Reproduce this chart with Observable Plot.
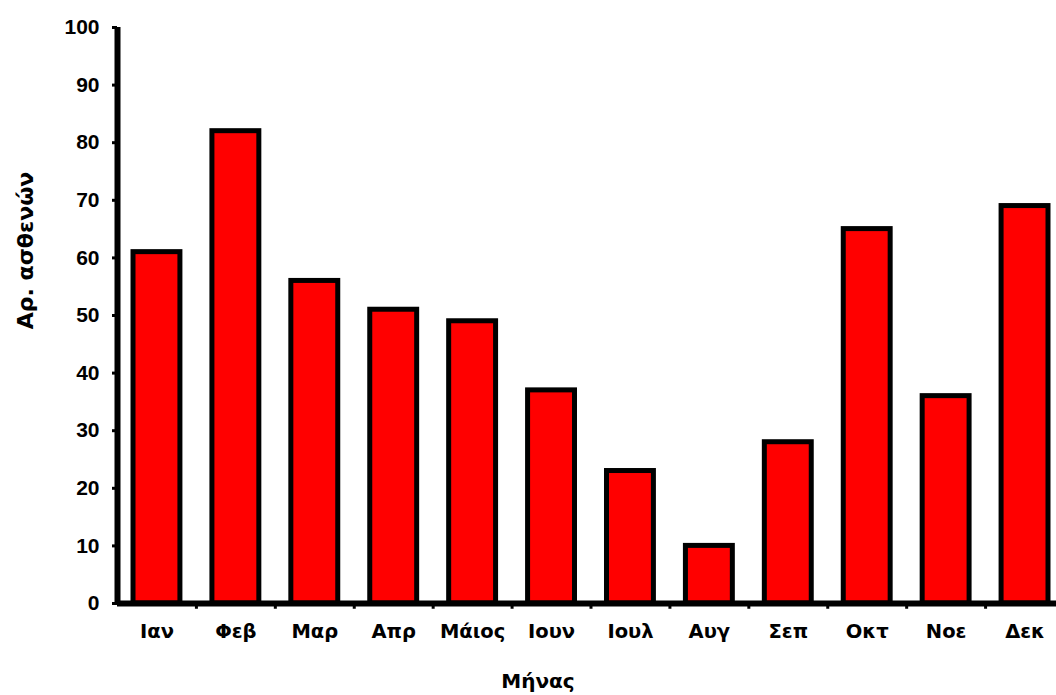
<!DOCTYPE html>
<html>
<head>
<meta charset="utf-8">
<script src="https://cdn.jsdelivr.net/npm/d3@7"></script>
<script src="https://cdn.jsdelivr.net/npm/@observablehq/plot@0.6"></script>
<style>
  html, body { margin: 0; padding: 0; background: #fff; overflow: hidden; }
</style>
</head>
<body>
<div id="chart"></div>
<script>
const months = ["Ιαν", "Φεβ", "Μαρ", "Απρ", "Μάιος", "Ιουν", "Ιουλ", "Αυγ", "Σεπ", "Οκτ", "Νοε", "Δεκ"];
const patients = [61, 82, 56, 51, 49, 37, 23, 10, 28, 65, 36, 69];
const yTicks = [0, 10, 20, 30, 40, 50, 60, 70, 80, 90, 100];
const xTitle = "Μήνας";
const yTitle = "Αρ. ασθενών";

const data = months.map((m, i) => ({month: m, value: patients[i]}));

const W = 1056, H = 695;
const mL = 117, mR = -8, mT = 27, mB = 92;
const step = (W - mL - mR) / months.length;
const wideFont = "'DejaVu Sans', Verdana, sans-serif";

const chart = Plot.plot({
  width: W,
  height: H,
  marginLeft: mL,
  marginRight: mR,
  marginTop: mT,
  marginBottom: mB,
  style: {fontFamily: "'Liberation Sans', Arial, sans-serif", background: "#fff", color: "#000"},
  x: {domain: months, padding: 0, round: false, label: null},
  y: {domain: [0, 100], label: null},
  marks: [
    Plot.barY(data, {
      x: "month", y: "value",
      fill: "#ff0000", stroke: "#000", strokeWidth: 5,
      insetLeft: 16, insetRight: 16
    }),
    // x axis baseline
    Plot.ruleY([0], {stroke: "#000", strokeWidth: 6}),
    // y axis line at left edge of first band
    Plot.ruleX([months[0]], {x: d => d, dx: -step / 2, y1: 0, y2: 100, stroke: "#000", strokeWidth: 6}),
    // category boundary ticks
    Plot.ruleX(months.slice(1), {x: d => d, dx: -step / 2, y1: 0, y2: -1, stroke: "#000", strokeWidth: 3}),
    Plot.axisY({
      ticks: yTicks, tickSize: 5, tickPadding: 13, strokeWidth: 3,
      fontSize: 21, fontWeight: "bold", label: null
    }),
    Plot.axisX({
      tickSize: 0, tickPadding: 21,
      fontSize: 19.5, fontWeight: "bold", fontFamily: wideFont, label: null
    }),
    Plot.text([yTitle], {
      frameAnchor: "left", dx: -92, dy: -65, rotate: -90,
      textAnchor: "middle", lineAnchor: "middle",
      fontSize: 22, fontWeight: "bold", fontFamily: wideFont, fill: "#000"
    }),
    Plot.text([xTitle], {
      frameAnchor: "bottom", dx: -53, dy: 78,
      textAnchor: "middle", lineAnchor: "middle",
      fontSize: 20, fontWeight: "bold", fontFamily: wideFont, fill: "#000"
    })
  ]
});

document.getElementById("chart").appendChild(chart);
</script>
</body>
</html>
